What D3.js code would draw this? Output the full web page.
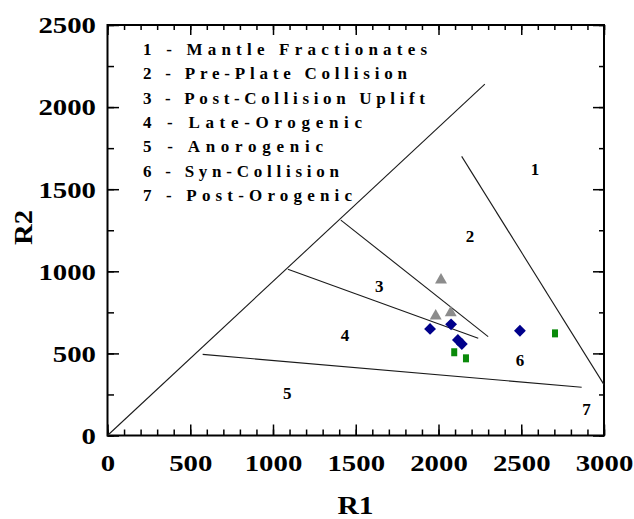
<!DOCTYPE html>
<html><head><meta charset="utf-8">
<script src="https://cdn.jsdelivr.net/npm/d3@7"></script>
<style>body{margin:0;background:#fff;}svg{display:block;}</style>
</head><body>
<svg id="chart" width="634" height="519"></svg>
<script>
// ---- data ----
const xTickValues = [0, 500, 1000, 1500, 2000, 2500, 3000];
const yTickValues = [0, 500, 1000, 1500, 2000, 2500];
const xMinorTicks = d3.range(0, 3001, 100);
const yMinorTicks = d3.range(0, 2501, 250);
const legendLabels = ["1 - Mantle Fractionates", "2 - Pre-Plate Collision", "3 - Post-Collision Uplift",
  "4 - Late-Orogenic", "5 - Anorogenic", "6 - Syn-Collision", "7 - Post-Orogenic"];
const legendWidths = [284, 264, 282, 219, 180, 196, 209];

const diagonalLine = [[0, 0], [2280, 2140]];
const line12 = [[2140, 1700], [3000, 310]];
const line23 = [[1410, 1312], [2300, 602]];
const line34 = [[1090, 1012], [2240, 592]];
const line45 = [[575, 494], [2865, 294]];

const regionNames = ["1", "2", "3", "4", "5", "6", "7"];
const regionR1 = [2583, 2190, 1642, 1435, 1086, 2492, 2895];
const regionR2 = [1621, 1217, 910, 612, 261, 460, 161];

const triR1 = [2015, 1983, 2074];
const triR2 = [947, 728, 748];
const diaR1 = [1949, 2076, 2117, 2141, 2492];
const diaR2 = [649, 677, 582, 557, 638];
const sqR1 = [2095, 2166, 2704];
const sqR2 = [507, 470, 622];

// ---- layout ----
const L = 107.5, T = 25, W = 496.5, H = 410.5;
const svg = d3.select("#chart");
const x = d3.scaleLinear().domain([0, 3000]).range([L, L + W]);
const y = d3.scaleLinear().domain([0, 2500]).range([T + H, T]);
const FONT = "'Liberation Serif','Times New Roman',serif";
const fmt = d3.format("d");

// axes
function styleAxis(g) {
  g.select(".domain").remove();
  g.selectAll("line").attr("stroke", "#000").attr("stroke-width", 1.5);
}
svg.append("g").attr("transform", `translate(0,${T + H})`)
  .call(d3.axisBottom(x).tickValues(xMinorTicks).tickSize(-6).tickFormat("")).call(styleAxis);
svg.append("g").attr("transform", `translate(0,${T + H})`)
  .call(d3.axisBottom(x).tickValues(xTickValues).tickSize(-11).tickFormat(fmt)).call(styleAxis)
  .selectAll("text").attr("y", 35).attr("dy", null)
  .attr("font-family", FONT).attr("font-weight", "bold").attr("font-size", 23).attr("fill", "#000")
  .attr("textLength", d => fmt(d).length * 14.4).attr("lengthAdjust", "spacingAndGlyphs");
svg.append("g").attr("transform", `translate(0,${T})`)
  .call(d3.axisTop(x).tickValues(xMinorTicks).tickSize(-5).tickFormat("")).call(styleAxis);
svg.append("g").attr("transform", `translate(0,${T})`)
  .call(d3.axisTop(x).tickValues(xTickValues).tickSize(-10).tickFormat("")).call(styleAxis);

svg.append("g").attr("transform", `translate(${L},0)`)
  .call(d3.axisLeft(y).tickValues(yMinorTicks).tickSize(-6.5).tickFormat("")).call(styleAxis);
svg.append("g").attr("transform", `translate(${L},0)`)
  .call(d3.axisLeft(y).tickValues(yTickValues).tickSize(-11.5).tickFormat(fmt)).call(styleAxis)
  .selectAll("text").attr("x", -11.5).attr("dy", null).attr("y", 7.8)
  .attr("font-family", FONT).attr("font-weight", "bold").attr("font-size", 23).attr("fill", "#000")
  .attr("textLength", d => fmt(d).length * 14.4).attr("lengthAdjust", "spacingAndGlyphs");
svg.append("g").attr("transform", `translate(${L + W},0)`)
  .call(d3.axisRight(y).tickValues(yMinorTicks).tickSize(-5).tickFormat("")).call(styleAxis);
svg.append("g").attr("transform", `translate(${L + W},0)`)
  .call(d3.axisRight(y).tickValues(yTickValues).tickSize(-11).tickFormat("")).call(styleAxis);

// frame
svg.append("rect").attr("x", L).attr("y", T).attr("width", W).attr("height", H)
  .attr("fill", "none").attr("stroke", "#000").attr("stroke-width", 2);

// axis titles
svg.append("text").attr("x", 355.5).attr("y", 514).attr("text-anchor", "middle")
  .attr("font-family", FONT).attr("font-weight", "bold").attr("font-size", 25)
  .attr("textLength", 36).attr("lengthAdjust", "spacingAndGlyphs").text("R1");
svg.append("text").attr("transform", "translate(31.5,227.5) rotate(-90)").attr("text-anchor", "middle")
  .attr("font-family", FONT).attr("font-weight", "bold").attr("font-size", 26)
  .attr("textLength", 35).attr("lengthAdjust", "spacingAndGlyphs").text("R2");

// boundary lines
const lineGen = d3.line().x(d => x(d[0])).y(d => y(d[1]));
[diagonalLine, line12, line23, line34, line45].forEach(seg => {
  svg.append("path").attr("d", lineGen(seg)).attr("fill", "none")
    .attr("stroke", "#1a1a1a").attr("stroke-width", 1.1);
});

// region numbers
svg.append("g").selectAll("text").data(regionNames).join("text")
  .attr("x", (d, i) => x(regionR1[i])).attr("y", (d, i) => y(regionR2[i]) + 6)
  .attr("text-anchor", "middle").attr("font-family", FONT).attr("font-weight", "bold")
  .attr("font-size", 17).text(d => d);

// legend text
svg.append("g").selectAll("text").data(legendLabels).join("text")
  .attr("x", 143).attr("y", (d, i) => 55 + i * 24.3)
  .attr("font-family", FONT).attr("font-weight", "bold").attr("font-size", 17)
  .attr("textLength", (d, i) => legendWidths[i]).attr("lengthAdjust", "spacing")
  .text(d => d);

// data points
const tri = d3.symbol().type(d3.symbolTriangle).size(62);
svg.append("g").selectAll("path").data(triR1).join("path")
  .attr("d", tri).attr("transform", (d, i) => `translate(${x(d)},${y(triR2[i])})`)
  .attr("fill", "#8c8c8c");
const dia = d3.symbol().type(d3.symbolSquare).size(70);
svg.append("g").selectAll("path").data(diaR1).join("path")
  .attr("d", dia).attr("transform", (d, i) => `translate(${x(d)},${y(diaR2[i])}) rotate(45)`)
  .attr("fill", "#00008b");
svg.append("g").selectAll("rect").data(sqR1).join("rect")
  .attr("x", d => x(d) - 3).attr("y", (d, i) => y(sqR2[i]) - 4)
  .attr("width", 6).attr("height", 8).attr("fill", "#0a8a0a");
</script>
</body></html>
